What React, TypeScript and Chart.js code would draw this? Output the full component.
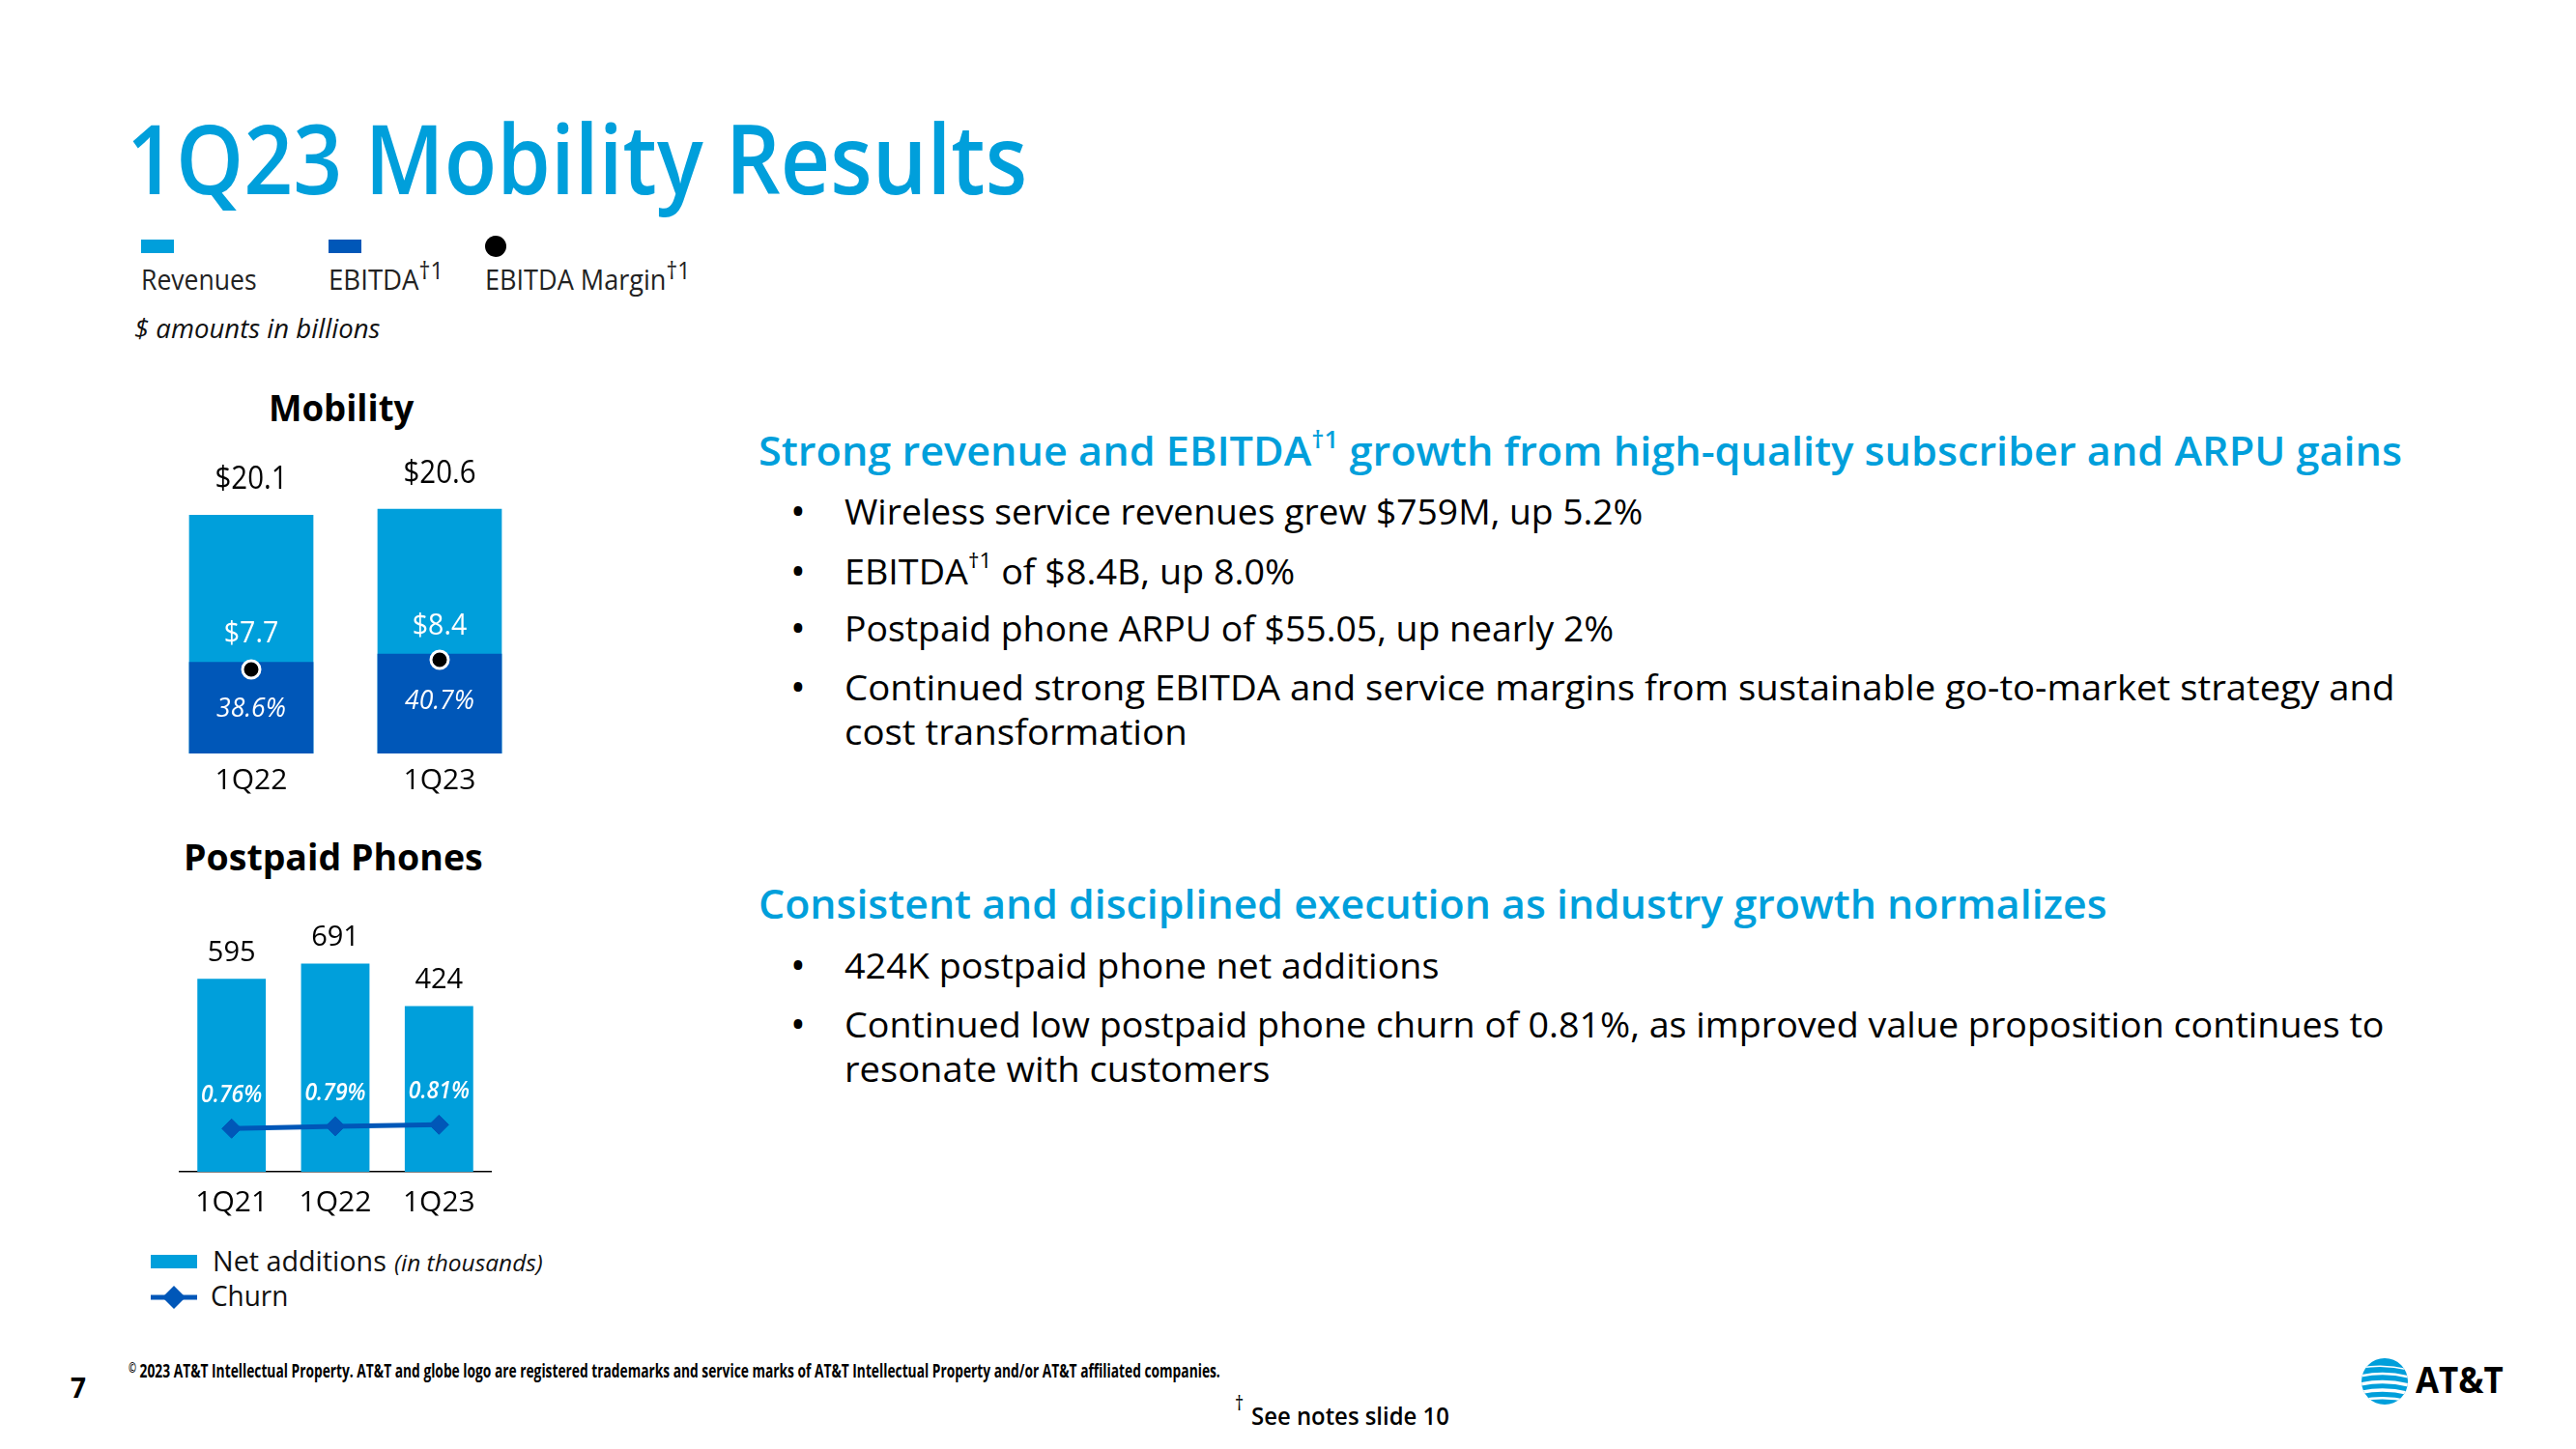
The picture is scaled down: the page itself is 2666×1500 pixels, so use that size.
import React, { useEffect, useLayoutEffect, useRef } from 'react';
import { Chart, registerables } from 'chart.js';

Chart.register(...registerables);

const FONT = '"Open Sans", "Noto Sans", Arial, sans-serif';
const BLUE = '#009FDB';
const DARK = '#0057B8';

// ---------------- data ----------------
const mobilityQuarters = ['1Q22', '1Q23'];
const revenues = [20.1, 20.6];
const ebitda = [7.7, 8.4];
const ebitdaMargin = [38.6, 40.7];

const postpaidQuarters = ['1Q21', '1Q22', '1Q23'];
const netAdds = [595, 691, 424];
const churn = [0.76, 0.79, 0.81];

const fmtDollar = (v: number) => `$${v.toFixed(1)}`;
const fmtPct1 = (v: number) => `${v.toFixed(1)}%`;
const fmtPct2 = (v: number) => `${v.toFixed(2)}%`;

// ---------------- canvas text helper ----------------
function capText(
  ctx: CanvasRenderingContext2D,
  text: string,
  x: number,
  cy: number,
  size: number,
  opts: { weight?: number; italic?: boolean; color?: string; sx?: number } = {}
) {
  ctx.save();
  ctx.font = `${opts.italic ? 'italic ' : ''}${opts.weight ?? 400} ${size}px ${FONT}`;
  ctx.fillStyle = opts.color ?? '#000';
  ctx.textAlign = 'center';
  ctx.textBaseline = 'alphabetic';
  ctx.translate(x, cy + 0.357 * size);
  ctx.scale(opts.sx ?? 1, 1);
  ctx.fillText(text, 0, 0);
  ctx.restore();
}

const mobilityLabelPlugin = {
  id: 'mobilityLabels',
  afterDatasetsDraw(chart: any) {
    const ctx = chart.ctx;
    const rev = chart.getDatasetMeta(0).data;
    const eb = chart.getDatasetMeta(1).data;
    rev.forEach((bar: any, i: number) => {
      capText(ctx, fmtDollar(revenues[i]), bar.x, bar.y - 38, 32, { sx: 0.92 });
      capText(ctx, fmtDollar(ebitda[i]), eb[i].x, eb[i].y - 31, 31, { color: '#fff', sx: 0.92 });
      capText(ctx, fmtPct1(ebitdaMargin[i]), eb[i].x, eb[i].y + 47, 28, { color: '#fff', italic: true, sx: 0.95 });
    });
  },
};

const postpaidLabelPlugin = {
  id: 'postpaidLabels',
  afterDatasetsDraw(chart: any) {
    const ctx = chart.ctx;
    const bars = chart.getDatasetMeta(0).data;
    const pts = chart.getDatasetMeta(1).data;
    bars.forEach((bar: any, i: number) => {
      capText(ctx, String(netAdds[i]), bar.x, bar.y - 29, 29, {});
      capText(ctx, fmtPct2(churn[i]), pts[i].x, pts[i].y - 36, 25, { color: '#fff', italic: true, weight: 600, sx: 0.92 });
    });
  },
};

// ---------------- charts ----------------
function MobilityChart() {
  const ref = useRef<HTMLCanvasElement>(null);
  useEffect(() => {
    const chart = new Chart(ref.current as HTMLCanvasElement, {
      type: 'bar',
      data: {
        labels: mobilityQuarters,
        datasets: [
          {
            label: 'Revenues',
            data: revenues,
            backgroundColor: BLUE,
            grouped: false,
            order: 2,
            barPercentage: 0.66,
            categoryPercentage: 1,
            yAxisID: 'y',
          } as any,
          {
            label: 'EBITDA',
            data: ebitda,
            backgroundColor: DARK,
            grouped: false,
            order: 1,
            barPercentage: 0.66,
            categoryPercentage: 1,
            yAxisID: 'y',
          } as any,
          {
            type: 'line',
            label: 'EBITDA Margin',
            data: ebitdaMargin,
            yAxisID: 'y2',
            showLine: false,
            pointRadius: 9,
            pointBackgroundColor: '#000',
            pointBorderColor: '#fff',
            pointBorderWidth: 3,
            order: 0,
          } as any,
        ],
      },
      options: {
        animation: false,
        responsive: false,
        maintainAspectRatio: false,
        devicePixelRatio: 1,
        layout: { padding: { left: 12.5, right: 17.5, top: 15, bottom: 0 } },
        plugins: { legend: { display: false }, tooltip: { enabled: false } },
        scales: {
          x: {
            grid: { display: false, drawTicks: false },
            border: { display: false },
            ticks: { font: { family: FONT, size: 30 }, color: '#000', padding: 10 },
            afterFit: (s: any) => {
              s.height = 50;
            },
          },
          y: { display: false, min: 0, max: 24 },
          y2: { display: false, min: 20.33, max: 82.3, position: 'right' },
        },
      } as any,
      plugins: [mobilityLabelPlugin],
    });
    return () => chart.destroy();
  }, []);
  return (
    <canvas
      ref={ref}
      width={420}
      height={360}
      style={{ position: 'absolute', left: 150, top: 470, width: 420, height: 360 }}
    />
  );
}

function PostpaidChart() {
  const ref = useRef<HTMLCanvasElement>(null);
  useEffect(() => {
    const chart = new Chart(ref.current as HTMLCanvasElement, {
      type: 'bar',
      data: {
        labels: postpaidQuarters,
        datasets: [
          {
            label: 'Net additions',
            data: netAdds,
            backgroundColor: BLUE,
            base: -614,
            barPercentage: 0.66,
            categoryPercentage: 1,
            yAxisID: 'y',
            order: 1,
          } as any,
          {
            type: 'line',
            label: 'Churn',
            data: churn,
            yAxisID: 'y2',
            borderColor: DARK,
            borderWidth: 5,
            pointStyle: 'rectRot',
            pointRadius: 10,
            pointBackgroundColor: DARK,
            pointBorderColor: DARK,
            pointBorderWidth: 1,
            order: 0,
          } as any,
        ],
      },
      options: {
        animation: false,
        responsive: false,
        maintainAspectRatio: false,
        devicePixelRatio: 1,
        layout: { padding: { left: 36, right: 42, top: 20, bottom: 0 } },
        plugins: { legend: { display: false }, tooltip: { enabled: false } },
        scales: {
          x: {
            grid: { display: false, drawTicks: false },
            border: { display: true, color: '#000', width: 1.5 },
            ticks: { font: { family: FONT, size: 30 }, color: '#000', padding: 14 },
            afterFit: (s: any) => {
              s.height = 57;
            },
          },
          y: { display: false, min: -614, max: 978 },
          y2: { display: false, min: 0.201, max: 3.49, position: 'right' },
        },
      } as any,
      plugins: [postpaidLabelPlugin],
    });
    return () => chart.destroy();
  }, []);
  return (
    <canvas
      ref={ref}
      width={400}
      height={340}
      style={{ position: 'absolute', left: 150, top: 930, width: 400, height: 340 }}
    />
  );
}

// ---------------- html text helpers ----------------
function Fit({ w, children }: { w: number; children: any }) {
  const ref = useRef<HTMLSpanElement>(null);
  useLayoutEffect(() => {
    const apply = () => {
      const el = ref.current;
      if (!el) return;
      el.style.transform = 'none';
      const nat = el.offsetWidth;
      if (nat > 0) el.style.transform = `scaleX(${w / nat})`;
    };
    apply();
    const f = (document as any).fonts;
    if (f && f.ready) f.ready.then(apply);
  }, [w]);
  return (
    <span ref={ref} style={{ display: 'inline-block', whiteSpace: 'nowrap', transformOrigin: '0 50%' }}>
      {children}
    </span>
  );
}

function Txt(props: {
  x: number;
  cy: number;
  size: number;
  w: number;
  weight?: number;
  italic?: boolean;
  color?: string;
  center?: boolean;
  children: any;
}) {
  const { x, cy, size, w, weight = 400, italic = false, color = '#000', center = false, children } = props;
  const left = center ? x - w / 2 : x;
  return (
    <div
      style={{
        position: 'absolute',
        left,
        top: cy - 0.631 * size,
        fontFamily: FONT,
        fontSize: size,
        lineHeight: `${1.2 * size}px`,
        fontWeight: weight,
        fontStyle: italic ? 'italic' : 'normal',
        color,
        whiteSpace: 'nowrap',
      }}
    >
      <Fit w={w}>{children}</Fit>
    </div>
  );
}

function Sup({ children, scale = 0.6, rise = 0.75 }: { children: any; scale?: number; rise?: number }) {
  return (
    <span style={{ fontSize: `${scale}em`, position: 'relative', top: `-${rise}em` }}>{children}</span>
  );
}

function Bullet({ cy }: { cy: number }) {
  return (
    <div
      style={{
        position: 'absolute',
        left: 818,
        top: cy - 0.631 * 42,
        fontFamily: FONT,
        fontSize: 42,
        lineHeight: `${1.2 * 42}px`,
        color: '#000',
      }}
    >
      •
    </div>
  );
}

function Globe() {
  return (
    <svg
      width={48}
      height={48}
      viewBox="0 0 48 48"
      style={{ position: 'absolute', left: 2444, top: 1406 }}
    >
      <defs>
        <clipPath id="globeClip">
          <circle cx={24} cy={24} r={24} />
        </clipPath>
      </defs>
      <circle cx={24} cy={24} r={24} fill={BLUE} />
      <g clipPath="url(#globeClip)" fill="#fff">
        <path d="M0 9 Q24 5 48 11 L48 12.5 Q24 6.5 0 10.5 Z" />
        <path d="M0 17 Q24 12 48 18 L48 20.5 Q24 14.5 0 19.5 Z" />
        <path d="M0 25 Q24 20 48 26 L48 29.5 Q24 23.5 0 28.5 Z" />
        <path d="M0 33.5 Q24 28.5 48 34.5 L48 38 Q24 32 0 37 Z" />
        <path d="M0 42 Q24 37.5 48 43 L48 45.5 Q24 40 0 44.5 Z" />
      </g>
    </svg>
  );
}

export default function App() {
  return (
    <div
      style={{
        position: 'absolute',
        left: 0,
        top: 0,
        width: 2666,
        height: 1500,
        overflow: 'hidden',
        background: '#fff',
        fontFamily: FONT,
      }}
    >
      {/* Title */}
      <Txt x={131} cy={165} size={100} w={932} weight={600} color={BLUE}>
        1Q23 Mobility Results
      </Txt>

      {/* Mobility legend */}
      <div style={{ position: 'absolute', left: 146, top: 248, width: 34, height: 14, background: BLUE }} />
      <div style={{ position: 'absolute', left: 340, top: 248, width: 34, height: 14, background: DARK }} />
      <div
        style={{ position: 'absolute', left: 502, top: 244, width: 22, height: 22, borderRadius: 11, background: '#000' }}
      />
      <Txt x={146} cy={290} size={29} w={120} color="#222">
        Revenues
      </Txt>
      <Txt x={340} cy={290} size={29} w={119} color="#222">
        EBITDA<Sup scale={0.85} rise={0.45}>†1</Sup>
      </Txt>
      <Txt x={502} cy={290} size={29} w={212} color="#222">
        EBITDA Margin<Sup scale={0.85} rise={0.45}>†1</Sup>
      </Txt>
      <Txt x={139} cy={341} size={28} w={254} italic color="#111">
        $ amounts in billions
      </Txt>

      {/* Mobility chart */}
      <Txt x={353} cy={423} size={38} w={150} weight={700} center>
        Mobility
      </Txt>
      <MobilityChart />

      {/* Postpaid chart */}
      <Txt x={190} cy={888} size={37} w={310} weight={700}>
        Postpaid Phones
      </Txt>
      <PostpaidChart />

      {/* Postpaid legend */}
      <div style={{ position: 'absolute', left: 156, top: 1299, width: 48, height: 14, background: BLUE }} />
      <svg width={48} height={26} style={{ position: 'absolute', left: 156, top: 1330 }}>
        <line x1={0} y1={13} x2={48} y2={13} stroke={DARK} strokeWidth={5} />
        <polygon points="24,1 36,13 24,25 12,13" fill={DARK} />
      </svg>
      <Txt x={220} cy={1306} size={30} w={180} color="#111">
        Net additions
      </Txt>
      <Txt x={408} cy={1308} size={24} w={154} italic color="#111">
        (in thousands)
      </Txt>
      <Txt x={218} cy={1342} size={30} w={80} color="#111">
        Churn
      </Txt>

      {/* Right side text */}
      <Txt x={785} cy={468} size={42} w={1701} weight={600} color={BLUE}>
        Strong revenue and EBITDA<Sup>†1</Sup> growth from high-quality subscriber and ARPU gains
      </Txt>
      <Bullet cy={530} />
      <Txt x={874} cy={530} size={37} w={826}>
        Wireless service revenues grew $759M, up 5.2%
      </Txt>
      <Bullet cy={592} />
      <Txt x={874} cy={592} size={37} w={466}>
        EBITDA<Sup>†1</Sup> of $8.4B, up 8.0%
      </Txt>
      <Bullet cy={651} />
      <Txt x={874} cy={651} size={37} w={796}>
        Postpaid phone ARPU of $55.05, up nearly 2%
      </Txt>
      <Bullet cy={712} />
      <Txt x={874} cy={712} size={37} w={1605}>
        Continued strong EBITDA and service margins from sustainable go-to-market strategy and
      </Txt>
      <Txt x={874} cy={758} size={37} w={355}>
        cost transformation
      </Txt>

      <Txt x={785} cy={937} size={42} w={1396} weight={600} color={BLUE}>
        Consistent and disciplined execution as industry growth normalizes
      </Txt>
      <Bullet cy={1000} />
      <Txt x={874} cy={1000} size={37} w={615}>
        424K postpaid phone net additions
      </Txt>
      <Bullet cy={1061} />
      <Txt x={874} cy={1061} size={37} w={1593}>
        Continued low postpaid phone churn of 0.81%, as improved value proposition continues to
      </Txt>
      <Txt x={874} cy={1107} size={37} w={440}>
        resonate with customers
      </Txt>

      {/* Footer */}
      <Txt x={73} cy={1438} size={28} w={16} weight={700}>
        7
      </Txt>
      <Txt x={133} cy={1420} size={19} w={1130} weight={700}>
        <Sup scale={0.7} rise={0.4}>©</Sup> 2023 AT&amp;T Intellectual Property. AT&amp;T and globe logo are registered
        trademarks and service marks of AT&amp;T Intellectual Property and/or AT&amp;T affiliated companies.
      </Txt>
      <Txt x={1278} cy={1452} size={22} w={9} weight={400}>
        †
      </Txt>
      <Txt x={1295} cy={1466} size={26} w={205} weight={600}>
        See notes slide 10
      </Txt>

      {/* Logo */}
      <Globe />
      <Txt x={2500} cy={1429} size={38} w={91} weight={700}>
        AT&amp;T
      </Txt>
    </div>
  );
}
